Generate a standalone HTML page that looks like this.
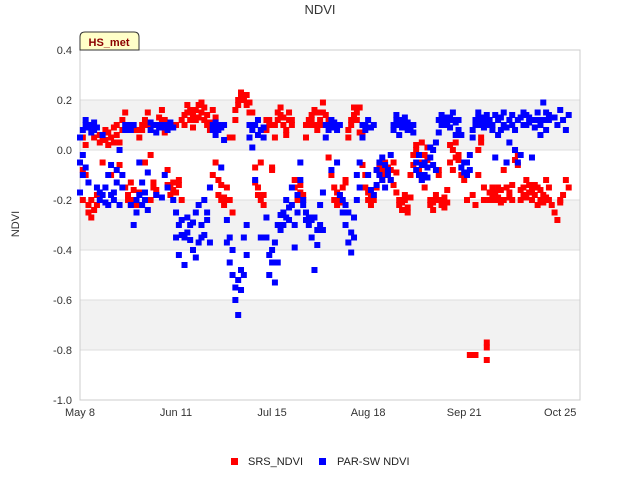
<!DOCTYPE html>
<html><head><meta charset="utf-8"><style>
body{margin:0;background:#fff;font-family:"Liberation Sans",sans-serif}
svg text{font-family:"Liberation Sans",sans-serif}
</style></head><body>
<svg id="chart" width="640" height="480" xmlns="http://www.w3.org/2000/svg">
<rect x="0" y="0" width="640" height="480" fill="#fff"/>
<g id="bands"></g><g id="grid"></g>
<rect x="80" y="50" width="500" height="350" fill="none" stroke="#ccc"/>
<g id="yticks"></g><g id="xticks"></g>
<g id="marks"></g>
<text x="320" y="14" text-anchor="middle" font-size="13" fill="#333">NDVI</text>
<text x="19" y="224" text-anchor="middle" font-size="11" fill="#333" transform="rotate(-90 19 224)">NDVI</text>
<g>
<path d="M80,50 L80,37 Q80,32 85,32 L134,32 Q139,32 139,37 L139,50 Z" fill="#ffffc8" stroke="#333" stroke-width="1"/>
<text x="109" y="46" text-anchor="middle" font-size="11" font-weight="bold" fill="#8b0000">HS_met</text>
</g>
<g>
<rect x="231" y="458" width="7" height="7" fill="#f00"/>
<text x="248" y="465" font-size="11" fill="#222">SRS_NDVI</text>
<rect x="319" y="458" width="7" height="7" fill="#00f"/>
<text x="337" y="465" font-size="11" fill="#222">PAR-SW NDVI</text>
</g>
</svg>
<script>
const yTicks=[0.4,0.2,0.0,-0.2,-0.4,-0.6,-0.8,-1.0];
const yTickLabels=["0.4","0.2","0.0","-0.2","-0.4","-0.6","-0.8","-1.0"];
const xTickDays=[0,34,68,102,136,170];
const xTickLabels=["May 8","Jun 11","Jul 15","Aug 18","Sep 21","Oct 25"];
const srsDays=[1,1,1,2,2,3,3,4,4,5,5,6,6,7,7,8,8,9,9,10,10,11,11,12,12,13,13,14,14,15,15,16,16,17,17,18,18,19,19,20,20,21,21,22,22,23,23,24,24,25,25,26,26,27,27,28,28,29,29,30,30,31,31,32,32,33,33,34,34,35,35,36,36,37,37,38,38,39,39,40,40,41,41,42,42,43,43,44,44,45,45,46,46,47,47,48,48,49,49,50,50,51,51,52,52,53,53,54,54,55,55,56,56,57,57,58,58,59,59,60,60,61,61,62,62,63,63,64,64,65,65,66,66,67,67,68,68,69,69,70,70,71,71,72,72,73,73,74,74,75,75,76,76,77,77,78,78,79,79,80,80,81,81,82,82,83,83,84,84,85,85,86,86,87,87,88,88,89,89,90,90,91,91,92,92,93,93,94,94,95,95,96,96,97,97,98,98,99,99,100,100,101,101,102,102,103,103,104,104,105,105,106,106,107,107,108,108,109,109,110,110,111,111,112,112,113,113,114,114,115,115,116,116,117,117,118,118,119,119,120,120,121,121,122,122,123,123,124,124,125,125,126,126,127,127,128,128,129,129,130,130,131,131,132,132,133,133,134,134,135,136,137,138,139,140,140,141,141,142,142,143,143,144,144,144,145,145,146,146,147,147,148,148,149,149,150,150,151,151,152,152,153,153,154,154,155,155,156,156,157,157,158,158,159,159,160,160,161,161,162,162,163,163,164,164,165,165,166,166,167,168,169,170,170,171,172,173];
const srsVals=[-0.08,0.05,-0.2,-0.1,0.02,-0.25,-0.22,-0.27,-0.2,-0.24,0.05,-0.22,-0.18,0.03,0.06,0.05,-0.05,0.08,0.04,0.07,0.02,0.05,-0.1,0.09,0.03,0.06,0.1,0.03,-0.06,0.08,0.12,-0.15,0.15,-0.18,-0.2,-0.13,-0.22,-0.2,-0.16,-0.22,0.08,-0.17,0.05,0.08,0.1,0.12,-0.05,0.1,0.15,-0.02,-0.2,-0.13,-0.15,-0.16,-0.18,0.1,0.13,0.12,0.16,0.12,0.07,-0.14,-0.08,-0.15,-0.18,-0.13,-0.16,-0.17,0.1,-0.14,-0.12,-0.2,0.12,0.14,0.1,0.15,0.18,0.12,0.16,0.14,0.09,0.16,0.12,0.18,0.13,0.19,0.15,0.17,0.12,0.14,0.1,0.11,0.08,0.16,-0.1,0.13,-0.05,-0.12,-0.18,-0.14,-0.2,-0.19,-0.22,-0.2,-0.15,0.05,-0.2,0.05,-0.25,0.12,0.16,0.18,0.2,0.22,0.23,0.2,0.21,0.22,0.18,0.19,0.15,0.15,0.1,-0.07,-0.13,-0.15,-0.18,-0.2,-0.05,-0.22,-0.18,0.08,0.12,0.12,0.1,-0.07,-0.08,0.05,0.1,0.12,0.15,0.17,0.14,0.13,0.1,0.08,0.06,0.15,0.12,0.12,0.1,-0.15,-0.12,-0.18,-0.2,-0.17,-0.14,-0.2,-0.18,0.05,0.1,0.1,0.12,0.12,0.14,0.16,0.1,0.15,0.08,0.1,0.12,0.19,0.15,0.14,0.1,0.12,-0.03,0.1,-0.1,-0.15,-0.2,-0.17,-0.22,-0.2,-0.18,-0.21,-0.15,-0.13,-0.12,0.08,0.05,0.1,0.12,0.14,0.17,0.15,0.12,0.17,0.07,0.06,-0.06,-0.1,-0.15,-0.17,-0.2,-0.22,-0.19,-0.2,-0.18,-0.15,-0.08,-0.1,-0.06,-0.08,-0.12,-0.05,-0.1,-0.1,-0.07,-0.12,-0.08,-0.14,-0.05,-0.09,-0.17,-0.2,-0.22,-0.24,-0.21,-0.2,-0.18,-0.23,-0.25,-0.19,-0.1,-0.06,-0.02,0.0,0.02,-0.05,-0.08,0.03,-0.12,-0.15,-0.02,-0.04,0.01,-0.22,-0.2,-0.21,-0.24,-0.18,-0.2,-0.08,-0.1,-0.2,-0.22,-0.19,-0.23,-0.16,-0.21,0.02,-0.05,0.0,-0.08,-0.03,0.03,-0.02,-0.04,-0.1,-0.12,-0.2,-0.82,-0.18,-0.82,-0.22,0.0,-0.1,0.03,0.05,-0.2,-0.15,-0.77,-0.79,-0.84,-0.17,-0.2,-0.18,-0.15,-0.2,-0.17,-0.19,-0.15,-0.16,-0.21,-0.2,-0.08,-0.15,-0.05,-0.17,-0.19,-0.2,-0.14,0.0,-0.04,-0.02,-0.06,-0.16,-0.2,-0.18,-0.15,-0.19,-0.12,-0.14,-0.17,-0.2,-0.16,-0.18,-0.14,-0.22,-0.15,-0.2,-0.16,-0.21,-0.18,-0.19,-0.12,-0.15,-0.2,-0.22,-0.25,-0.28,-0.2,-0.21,-0.18,-0.12,-0.15];
const parDays=[0,0,0,1,1,1,2,2,2,3,3,3,4,4,5,5,6,6,7,7,8,8,9,9,10,10,11,11,12,12,13,13,14,14,15,15,16,16,17,17,18,18,19,19,20,20,21,21,22,22,23,23,24,24,25,25,26,26,27,27,28,28,29,29,30,30,31,31,32,32,33,33,34,34,35,35,36,36,37,37,38,38,39,39,40,40,41,41,42,42,43,43,44,44,45,45,46,46,47,47,48,48,49,49,50,50,51,51,52,52,53,53,54,54,55,55,56,56,57,57,58,58,59,59,60,60,61,61,62,62,63,63,64,64,65,65,66,66,67,67,68,68,69,69,70,70,71,71,72,72,73,73,74,74,75,75,76,76,77,77,78,78,79,79,80,80,81,81,82,82,83,83,84,84,85,85,86,86,87,87,88,88,89,89,90,90,91,91,92,92,93,93,94,94,95,95,96,96,97,97,98,98,99,99,100,100,101,101,102,102,103,103,104,104,105,105,106,106,107,107,108,108,109,109,110,110,111,111,112,112,113,113,114,114,115,115,116,116,117,117,118,118,119,119,120,120,121,121,122,122,123,123,124,124,125,125,126,126,127,127,128,128,129,129,130,130,131,131,132,132,133,133,134,134,135,135,136,136,137,137,138,138,139,139,140,140,141,141,142,142,143,143,144,144,145,145,146,146,147,147,148,148,149,149,150,150,151,151,152,152,153,153,154,154,155,155,156,156,157,157,158,158,159,159,160,160,161,161,162,162,163,163,164,164,165,165,166,166,168,169,170,171,172,173];
const parVals=[-0.05,-0.17,0.05,0.08,-0.1,-0.02,0.1,0.12,-0.07,0.09,0.1,-0.13,0.1,0.07,0.08,0.11,0.09,-0.15,-0.17,-0.2,-0.18,0.06,-0.21,-0.15,-0.1,-0.22,-0.06,-0.18,-0.2,-0.17,-0.08,-0.13,0.0,-0.22,-0.15,-0.1,0.08,0.1,0.09,0.1,0.08,-0.22,0.1,-0.3,-0.2,-0.25,-0.18,-0.05,-0.22,-0.13,-0.2,-0.17,-0.24,-0.09,0.08,0.11,0.1,0.1,0.07,-0.18,0.1,0.09,0.09,-0.19,0.1,-0.1,0.08,-0.15,0.1,0.11,0.09,-0.2,-0.25,-0.35,-0.3,-0.42,-0.28,-0.34,-0.46,-0.35,-0.33,-0.27,-0.36,-0.3,-0.29,-0.4,-0.43,-0.25,-0.37,-0.22,-0.3,-0.35,-0.2,-0.34,-0.28,-0.25,-0.37,-0.15,0.1,0.08,0.11,0.06,0.08,0.1,0.09,-0.07,0.1,0.04,-0.28,-0.37,-0.35,-0.45,-0.4,-0.5,-0.55,-0.6,-0.66,-0.52,-0.48,-0.56,-0.5,-0.35,-0.42,-0.3,0.1,0.05,0.08,0.01,0.1,-0.12,0.06,0.12,0.08,-0.35,0.05,0.09,-0.35,-0.27,-0.42,-0.5,-0.4,-0.45,-0.53,-0.37,-0.45,-0.3,-0.32,-0.26,-0.25,-0.3,-0.2,-0.27,-0.23,-0.28,-0.15,-0.22,-0.3,-0.39,-0.18,-0.25,-0.05,-0.12,-0.22,-0.2,-0.25,-0.28,-0.3,-0.27,-0.35,-0.28,-0.48,-0.27,-0.38,-0.32,-0.3,-0.22,-0.32,-0.17,0.1,0.05,0.1,0.08,0.12,-0.08,0.11,0.09,0.08,-0.05,0.1,-0.18,-0.2,-0.25,-0.22,-0.3,-0.25,-0.37,-0.41,-0.33,-0.27,-0.35,-0.2,-0.1,-0.15,-0.05,0.05,0.1,0.08,0.1,0.12,-0.1,0.09,-0.16,0.1,-0.18,-0.14,-0.08,-0.1,-0.05,-0.12,-0.03,-0.06,-0.15,-0.08,-0.1,-0.02,-0.12,0.08,0.1,0.12,0.14,0.1,0.06,0.12,0.09,0.1,0.13,0.11,0.08,0.08,0.1,0.1,0.07,-0.05,-0.08,-0.1,-0.02,-0.12,-0.06,-0.05,-0.1,-0.07,-0.11,-0.03,0.01,0.0,-0.06,0.03,-0.08,0.12,0.07,0.14,0.1,0.13,0.11,0.12,0.1,0.13,0.09,0.15,0.12,0.11,0.06,0.08,0.12,0.06,-0.07,-0.05,-0.09,-0.1,-0.05,-0.08,-0.02,0.05,0.08,0.12,0.1,0.15,0.13,0.1,0.12,0.09,0.13,0.14,0.11,0.12,0.1,0.1,0.08,0.14,-0.03,0.12,0.06,0.13,0.08,0.15,0.1,0.09,-0.05,0.12,0.03,0.14,0.1,0.08,0.0,0.12,-0.05,0.13,-0.02,0.1,0.15,0.14,0.1,0.13,0.11,-0.03,0.12,0.12,0.09,0.15,0.12,0.1,0.06,0.12,0.19,0.15,0.08,0.12,0.14,0.13,0.1,0.16,0.12,0.08,0.14];
const NS="http://www.w3.org/2000/svg";
const X0=80,X1=580,Y0=50,Y1=400,DMAX=177,VMIN=-1,VMAX=0.4;
function xs(d){return X0+(d/DMAX)*(X1-X0);}
function ys(v){return Y0+(VMAX-v)/(VMAX-VMIN)*(Y1-Y0);}
function mk(tag,attrs,parent){const e=document.createElementNS(NS,tag);for(const k in attrs)e.setAttribute(k,attrs[k]);parent.appendChild(e);return e;}
const bands=document.getElementById('bands');
[[0.2,0],[-0.2,-0.4],[-0.6,-0.8]].forEach(b=>{
 const r=mk('rect',{x:X0,y:ys(b[0]),width:X1-X0,height:ys(b[1])-ys(b[0]),fill:'#f2f2f2'},bands);
 
 
});
const grid=document.getElementById('grid'),yt=document.getElementById('yticks'),xt=document.getElementById('xticks');
yTicks.forEach((v,i)=>{
 const l=mk('line',{x1:X0,x2:X1,y1:ys(v),y2:ys(v),stroke:'#ddd'},grid);
 
 
 const t=mk('text',{x:72,y:ys(v)+4,'text-anchor':'end','font-size':'11',fill:'#333'},yt);
 t.textContent=yTickLabels[i];
 
 
});
xTickDays.forEach((d,i)=>{
 const t=mk('text',{x:xs(d),y:416,'text-anchor':'middle','font-size':'11',fill:'#333'},xt);
 t.textContent=xTickLabels[i];
 
 
});
const marks=document.getElementById('marks');
function series(days,vals,color,name){
 const g=mk('g',{},marks);
 
 
 days.forEach((d,i)=>{
  const r=mk('rect',{x:xs(d)-3,y:ys(vals[i])-3,width:6,height:6,fill:color},g);
  
  
 });
}
series(srsDays,srsVals,'#f00','srs-ndvi');
series(parDays,parVals,'#00f','par-sw-ndvi');
</script>
</body></html>
